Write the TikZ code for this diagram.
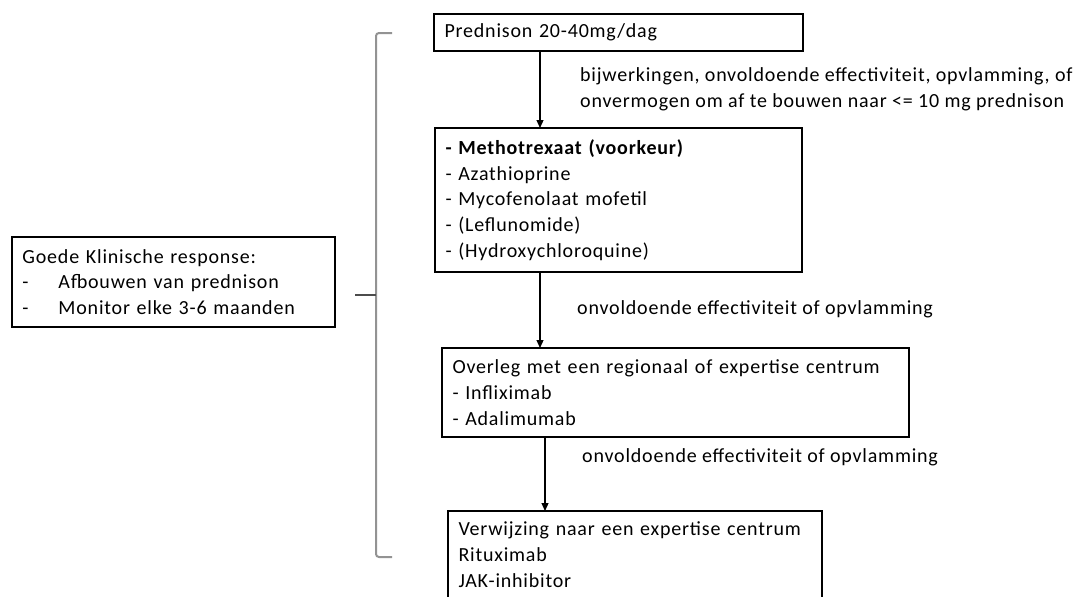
\documentclass[tikz,border=0pt]{standalone}
\usepackage{fontspec}
\setmainfont{Carlito}[LetterSpace=4]
\usetikzlibrary{arrows.meta}
\begin{document}
\begin{tikzpicture}[x=1pt,y=-1pt,
  font=\fontsize{20}{25.8}\selectfont,
  box/.style={draw=black, line width=1.2pt, anchor=north west, align=left,
    inner xsep=10.5pt, inner ysep=0pt, outer sep=0pt},
  arr/.style={-{Triangle[length=8pt,width=7pt]}, line width=1.2pt},
  lbl/.style={anchor=base west, align=left, inner sep=0pt},
  brk/.style={draw=gray!85, line width=2pt, rounded corners=3pt}]
\useasboundingbox (0,0) rectangle (1080,597);

% boxes
\node[box, text width=348pt, minimum height=37pt] (b1) at (434,14) {Prednison 20-40mg/dag};
\node[box, text width=346pt, minimum height=144pt] (b2) at (435,128)
  {\textbf{- Methotrexaat (voorkeur)}\\- Azathioprine\\- Mycofenolaat mofetil\\- (Leflunomide)\\- (Hydroxychloroquine)};
\node[box, text width=446pt, minimum height=89pt] (b3) at (442,348)
  {Overleg met een regionaal of expertise centrum\\- Infliximab\\- Adalimumab};
\node[box, text width=353pt, inner ysep=11pt] (b4) at (448,511)
  {Verwijzing naar een expertise centrum\\Rituximab\\JAK-inhibitor\rule[-30pt]{0pt}{30pt}};
\node[box, text width=302pt, minimum height=90pt] (lb) at (12,237)
  {Goede Klinische response:\\\makebox[36pt][l]{-}Afbouwen van prednison\\\makebox[36pt][l]{-}Monitor elke 3-6 maanden};

% arrows
\coordinate (c1) at (540,0);
\coordinate (c3) at (545,0);
\draw[arr] (b1.south -| c1) -- (b2.north -| c1);
\draw[arr] (b2.south -| c1) -- (b3.north -| c1);
\draw[arr] (b3.south -| c3) -- (b4.north -| c3);

% labels
\node[lbl] (l1) at (580,107) {bijwerkingen, onvoldoende effectiviteit, opvlamming, of\\onvermogen om af te bouwen naar <= 10 mg prednison};
\node[lbl] (l2) at (577,314) {onvoldoende effectiviteit of opvlamming};
\node[lbl] (l3) at (582,462) {onvoldoende effectiviteit of opvlamming};

% bracket
\coordinate (bt) at (392,33);
\coordinate (bb) at (392,557);
\coordinate (bm) at (376,295);
\coordinate (bk) at (355,295);
\draw[brk] (bt) -- (376,33) -- (376,557) -- (bb);
\draw[draw=gray!60!black, line width=2pt] (bm) -- (bk);
\end{tikzpicture}
\end{document}
